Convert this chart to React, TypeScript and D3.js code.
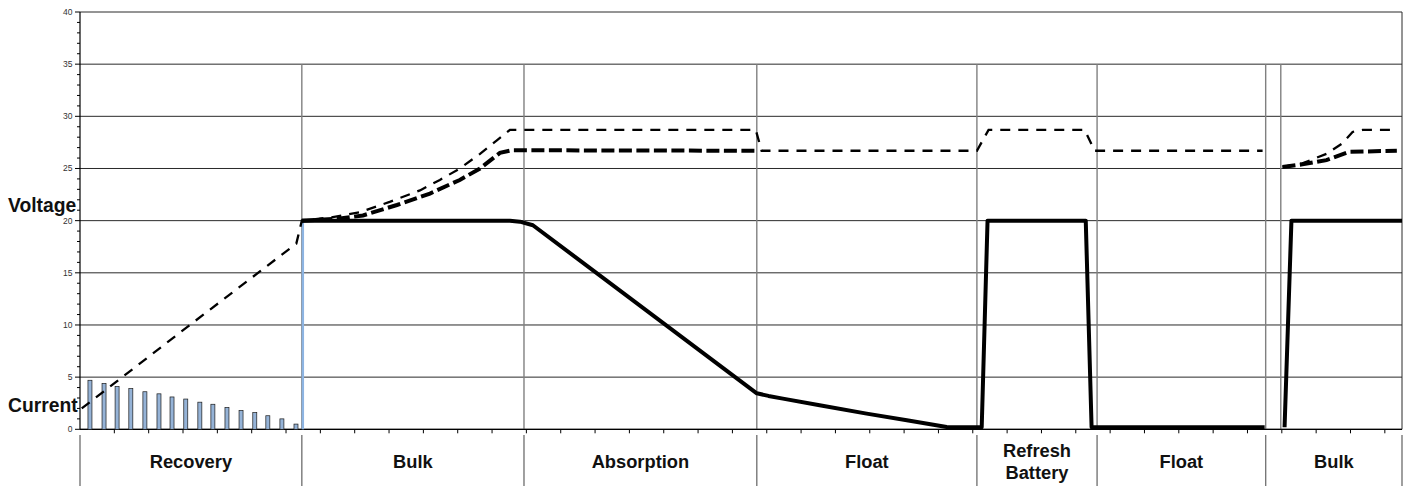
import React from "react";
import * as d3 from "d3";

// ---------- data ----------
const yTicks = [0, 5, 10, 15, 20, 25, 30, 35, 40];
const xTickCount = 38;

const phaseLabels = ["Recovery", "Bulk", "Absorption", "Float", "Refresh\nBattery", "Float", "Bulk"];
const phaseBounds = [0, 6.46, 12.93, 19.71, 26.12, 29.62, 34.53, 38.5];
const extraGridX = [34.97];

// recovery current bars
const barX = [0.29, 0.70, 1.08, 1.48, 1.89, 2.30, 2.68, 3.08, 3.49, 3.87, 4.28, 4.69, 5.09, 5.47, 5.88, 6.29];
const barV = [4.7, 4.4, 4.1, 3.9, 3.6, 3.4, 3.1, 2.9, 2.6, 2.4, 2.1, 1.8, 1.6, 1.3, 1.0, 0.5];
const spikeX = [6.49];
const spikeV = [20];

// thin dashed voltage line (null = gap)
const thinU = [0.05, 3.2, 6.3, 6.46, 7.28, 8.15, 9.02, 9.9, 10.48, 11.06, 11.65, 12.14, 12.52, 19.68, 19.85, 26.12, 26.46, 29.26, 29.55, 34.44, 34.7, 35.02, 35.6, 36.3, 36.76, 37.06, 37.35, 38.2];
const thinV = [2.0, 10.0, 17.8, 20.0, 20.3, 20.8, 21.8, 22.9, 23.9, 25.0, 26.4, 27.7, 28.7, 28.7, 26.7, 26.7, 28.7, 28.7, 26.7, 26.7, null, 25.15, 25.5, 26.4, 27.4, 28.5, 28.7, 28.7];

// thick dashed voltage line
const thickU = [6.46, 7.57, 8.24, 9.23, 10.19, 11.06, 11.65, 12.23, 12.58, 19.68, 25, 35.02, 35.6, 36.3, 36.97, 38.35];
const thickV = [20.0, 20.2, 20.5, 21.5, 22.6, 23.9, 25.0, 26.5, 26.75, 26.7, null, 25.15, 25.4, 25.8, 26.6, 26.7];

// solid current line
const solidU = [6.46, 12.52, 12.81, 13.19, 19.71, 20.05, 20.47, 21.54, 22.91, 24.08, 25.24, 26.26, 26.43, 29.29, 29.46, 34.5, 34.8, 35.08, 35.28, 38.5];
const solidV = [20, 20, 19.9, 19.56, 3.45, 3.2, 2.94, 2.3, 1.5, 0.86, 0.22, 0.2, 20, 20, 0.2, 0.2, null, 0.2, 20, 20];

// ---------- layout ----------
const W = 1409;
const H = 486;
const left = 80;
const right = 1402;
const top = 12;
const bottom = 429.3;

export default function App() {
  const x = d3.scaleLinear().domain([0, 38.5]).range([left, right]);
  const y = d3.scaleLinear().domain([0, 40]).range([bottom, top]);

  const mk = (us: number[], vs: (number | null)[]) =>
    us.map((u, i) => ({ u, v: vs[i] }));
  const line = d3
    .line<{ u: number; v: number | null }>()
    .defined((d) => d.v !== null)
    .x((d) => x(d.u))
    .y((d) => y(d.v as number));

  const minor = d3.range(0, 41, 1);
  const gridX = [...phaseBounds.slice(1, -1), ...extraGridX];
  const font = "'Liberation Sans', Arial, sans-serif";

  return (
    <div style={{ position: "fixed", left: 0, top: 0 }}>
      <svg width={W} height={H} style={{ display: "block", background: "#fff" }}>
        {/* horizontal gridlines */}
        {yTicks.map((t) => (
          <line key={"h" + t} x1={left} x2={right} y1={y(t)} y2={y(t)} stroke="#2a2a2a" strokeWidth={1} />
        ))}
        {/* vertical phase gridlines */}
        {gridX.map((g, i) => (
          <line key={"v" + i} x1={x(g)} x2={x(g)} y1={y(35)} y2={bottom} stroke="#808080" strokeWidth={1.4} />
        ))}
        {/* right border */}
        <line x1={right} x2={right} y1={top} y2={bottom} stroke="#2a2a2a" strokeWidth={1} />
        {/* y axis */}
        <line x1={left} x2={left} y1={top} y2={bottom} stroke="#000" strokeWidth={1.2} />
        {minor.map((t) => (
          <line key={"m" + t} x1={t % 5 === 0 ? left - 5 : left - 3} x2={left} y1={y(t)} y2={y(t)} stroke="#000" strokeWidth={1} />
        ))}
        {yTicks.map((t) => (
          <text key={"yl" + t} x={72.5} y={y(t)} dy="0.35em" textAnchor="end" fontSize={8.5} fill="#333" fontFamily={font}>
            {t}
          </text>
        ))}
        {/* x axis */}
        <line x1={left} x2={right} y1={bottom} y2={bottom} stroke="#000" strokeWidth={1.2} />
        {d3.range(1, xTickCount + 1).map((k) => (
          <line key={"xt" + k} x1={x(k)} x2={x(k)} y1={bottom} y2={bottom + 4} stroke="#000" strokeWidth={1} />
        ))}
        {/* category separators */}
        {phaseBounds.map((b, i) => (
          <line key={"s" + i} x1={x(b)} x2={x(b)} y1={435} y2={H} stroke="#777" strokeWidth={1.4} />
        ))}
        {/* category labels */}
        {phaseLabels.map((lab, i) => {
          const cx = (x(phaseBounds[i]) + x(phaseBounds[i + 1])) / 2;
          const parts = lab.split("\n");
          return (
            <text key={"c" + i} x={cx} textAnchor="middle" fontSize={18.3} fontWeight="bold" fontFamily={font} fill="#111">
              {parts.length === 1 ? (
                <tspan x={cx} y={468}>{lab}</tspan>
              ) : (
                parts.map((p, j) => (
                  <tspan key={j} x={cx} y={457 + j * 22}>{p}</tspan>
                ))
              )}
            </text>
          );
        })}
        {/* bars */}
        {barX.map((b, i) => (
          <rect key={"b" + i} x={x(b) - 2} y={y(barV[i])} width={4} height={bottom - y(barV[i])} fill="#95B3D7" stroke="#1a1a1a" strokeWidth={0.7} />
        ))}
        {spikeX.map((b, i) => (
          <rect key={"sp" + i} x={x(b) - 1.2} y={y(spikeV[i])} width={2.4} height={bottom - y(spikeV[i])} fill="#8DB4E2" />
        ))}
        {/* lines */}
        <path d={line(mk(solidU, solidV)) || ""} fill="none" stroke="#000" strokeWidth={4} strokeLinejoin="round" />
        <path d={line(mk(thickU, thickV)) || ""} fill="none" stroke="#000" strokeWidth={4} strokeDasharray="13,4.5" />
        <path d={line(mk(thinU, thinV)) || ""} fill="none" stroke="#000" strokeWidth={2.3} strokeDasharray="10,8" />
        {/* side labels */}
        <text x={8} y={212} fontSize={19.3} fontWeight="bold" fontFamily={font} fill="#111">Voltage</text>
        <text x={8} y={411.5} fontSize={19.3} fontWeight="bold" fontFamily={font} fill="#111">Current</text>
      </svg>
    </div>
  );
}
